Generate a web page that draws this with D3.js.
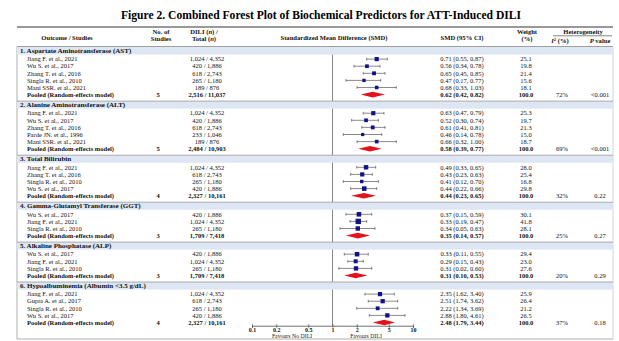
<!DOCTYPE html>
<html>
<head>
<meta charset="utf-8">
<script src="https://cdn.jsdelivr.net/npm/d3@7"></script>
<style>
  body { margin: 0; background: #fff; }
  svg { font-family: "Liberation Serif", "Times New Roman", serif; }
</style>
</head>
<body>
<svg id="chart" width="619" height="341"></svg>
<script>
const sectionTitles = [
  "1. Aspartate Aminotransferase (AST)",
  "2. Alanine Aminotransferase (ALT)",
  "3. Total Bilirubin",
  "4. Gamma-Glutamyl Transferase (GGT)",
  "5. Alkaline Phosphatase (ALP)",
  "6. Hypoalbuminemia (Albumin <3.5 g/dL)"
];

const studyNames = [
  "Jiang F. et al., 2021", "Wu S. et al., 2017", "Zhang T. et al., 2016", "Singla R. et al., 2010", "Mani SSR. et al., 2021",
  "Jiang F. et al., 2021", "Wu S. et al., 2017", "Zhang T. et al., 2016", "Parde JN. et al., 1996", "Mani SSR. et al., 2021",
  "Jiang F. et al., 2021", "Zhang T. et al., 2016", "Singla R. et al., 2010", "Wu S. et al., 2017",
  "Wu S. et al., 2017", "Jiang F. et al., 2021", "Singla R. et al., 2010",
  "Wu S. et al., 2017", "Jiang F. et al., 2021", "Singla R. et al., 2010",
  "Jiang F. et al., 2021", "Gupta A. et al., 2017", "Singla R. et al., 2010", "Wu S. et al., 2017"
];
const studySection = [0,0,0,0,0, 1,1,1,1,1, 2,2,2,2, 3,3,3, 4,4,4, 5,5,5,5];
const studyCases = [
  "1,024 / 4,352", "420 / 1,886", "618 / 2,743", "265 / 1,180", "189 / 876",
  "1,024 / 4,352", "420 / 1,886", "618 / 2,743", "233 / 1,046", "189 / 876",
  "1,024 / 4,352", "618 / 2,743", "265 / 1,180", "420 / 1,886",
  "420 / 1,886", "1,024 / 4,352", "265 / 1,180",
  "420 / 1,886", "1,024 / 4,352", "265 / 1,180",
  "1,024 / 4,352", "618 / 2,743", "265 / 1,180", "420 / 1,886"
];
const studySmd  = [0.71, 0.56, 0.65, 0.47, 0.68, 0.63, 0.52, 0.61, 0.46, 0.66, 0.49, 0.43, 0.41, 0.44, 0.37, 0.33, 0.34, 0.33, 0.29, 0.31, 2.35, 2.51, 2.22, 2.88];
const studyLow  = [0.55, 0.34, 0.45, 0.17, 0.33, 0.47, 0.30, 0.41, 0.14, 0.32, 0.33, 0.23, 0.12, 0.22, 0.15, 0.19, 0.05, 0.11, 0.15, 0.02, 1.62, 1.74, 1.34, 1.80];
const studyHigh = [0.87, 0.78, 0.85, 0.77, 1.03, 0.79, 0.74, 0.81, 0.78, 1.00, 0.65, 0.63, 0.70, 0.66, 0.59, 0.47, 0.63, 0.55, 0.43, 0.60, 3.40, 3.62, 3.69, 4.61];
const studyWeight = [25.1, 19.8, 21.4, 15.6, 18.1, 25.3, 19.7, 21.3, 15.0, 18.7, 28.0, 25.4, 16.8, 29.8, 30.1, 41.8, 28.1, 29.4, 23.0, 27.6, 25.9, 26.4, 21.2, 26.5];

// where the figure places each study marker on its ratio axis
const markEst  = [3.54, 2.68, 3.28, 2.46, 3.54, 3.21, 2.61, 3.16, 2.37, 3.54, 2.61, 2.34, 2.31, 2.48, 2.13, 2.09, 2.06, 2.02, 1.94, 1.96, 3.89, 4.20, 3.64, 4.80];
const markLow  = [2.66, 1.85, 2.41, 1.47, 2.02, 2.41, 1.73, 2.31, 1.36, 2.02, 2.00, 1.68, 1.36, 1.68, 1.47, 1.65, 1.24, 1.40, 1.55, 1.20, 2.53, 2.78, 2.00, 2.87];
const markHigh = [4.80, 3.89, 4.49, 3.97, 6.20, 4.36, 3.71, 4.49, 4.08, 6.20, 3.44, 3.12, 3.71, 3.54, 3.07, 2.66, 3.37, 2.78, 2.41, 3.07, 5.86, 6.45, 6.45, 7.95];

const pooledStudies = [5, 5, 4, 3, 3, 4];
const pooledCases = ["2,516 / 11,037", "2,484 / 10,903", "2,327 / 10,161", "1,709 / 7,418", "1,709 / 7,418", "2,327 / 10,161"];
const pooledSmd  = [0.62, 0.58, 0.44, 0.35, 0.31, 2.48];
const pooledLow  = [0.42, 0.39, 0.23, 0.14, 0.10, 1.79];
const pooledHigh = [0.82, 0.77, 0.65, 0.57, 0.53, 3.44];
const pooledI2 = [72, 69, 32, 25, 20, 37];
const pooledP = ["<0.001", "<0.001", "0.22", "0.27", "0.29", "0.18"];
const pooledMarkEst  = [3.16, 2.92, 2.46, 2.06, 1.94, 4.40];
const pooledMarkLow  = [2.24, 2.09, 1.70, 1.47, 1.40, 3.16];
const pooledMarkHigh = [4.49, 4.08, 3.47, 2.92, 2.71, 5.98];

const axisTicks = [0.1, 0.2, 0.5, 1, 2, 5, 10];

const left = 17, right = 613;
const bandH = 7.5, firstPad = 4.6, step = 7.1, afterPad = 6.5;
const axisY = 325.7;
const col = { name: 27, k: 158, cases: 207, smd: 462, weight: 526, i2: 562, p: 600 };

const svg = d3.select("#chart");
const x = d3.scaleLog().domain([0.1, 10]).range([252, 413]);
const side = d3.scaleSqrt().domain([0, 42]).range([0, 5.4]);
const fmt = d3.format(".2f");
const ciText = (m, l, h) => `${fmt(m)} (${fmt(l)}, ${fmt(h)})`;

// row layout
const bands = [];
const rows = [];
let y = 47;
sectionTitles.forEach((title, s) => {
  bands.push({ title, top: y });
  let cy = y + bandH + firstPad;
  studyNames.forEach((name, i) => {
    if (studySection[i] !== s) return;
    rows.push({ i, y: cy, pooled: false });
    cy += step;
  });
  rows.push({ i: s, y: cy, pooled: true });
  y = cy + afterPad;
});

// title
svg.append("text")
  .attr("x", 321).attr("y", 19)
  .attr("text-anchor", "middle")
  .attr("font-size", 11.6).attr("font-weight", "bold")
  .text("Figure 2. Combined Forest Plot of Biochemical Predictors for ATT-Induced DILI");

// table frame
svg.append("line").attr("x1", left).attr("x2", right).attr("y1", 27).attr("y2", 27)
  .attr("stroke", "#777").attr("stroke-width", 1.3);
svg.append("line").attr("x1", left).attr("x2", right).attr("y1", 46.5).attr("y2", 46.5)
  .attr("stroke", "#888").attr("stroke-width", 0.8);
svg.append("line").attr("x1", left).attr("x2", right).attr("y1", 339).attr("y2", 339)
  .attr("stroke", "#999").attr("stroke-width", 0.8);
svg.append("line").attr("x1", left).attr("x2", left).attr("y1", 46.5).attr("y2", 339)
  .attr("stroke", "#999").attr("stroke-width", 0.8);
svg.append("line").attr("x1", right).attr("x2", right).attr("y1", 46.5).attr("y2", 339)
  .attr("stroke", "#bbb").attr("stroke-width", 0.6);

// header
const head = svg.append("g").attr("font-size", 6.6).attr("font-weight", "bold")
  .attr("text-anchor", "middle").attr("fill", "#111");
head.append("text").attr("x", 67).attr("y", 39.5).text("Outcome / Studies");
head.append("text").attr("x", 161).attr("y", 34).text("No. of");
head.append("text").attr("x", 161).attr("y", 41).text("Studies");
const d1 = head.append("text").attr("x", 204).attr("y", 34);
d1.append("tspan").text("DILI (");
d1.append("tspan").attr("font-style", "italic").text("n");
d1.append("tspan").text(") /");
const d2 = head.append("text").attr("x", 204).attr("y", 41);
d2.append("tspan").text("Total (");
d2.append("tspan").attr("font-style", "italic").text("n");
d2.append("tspan").text(")");
head.append("text").attr("x", 334).attr("y", 39.5).text("Standardized Mean Difference (SMD)");
head.append("text").attr("x", col.smd).attr("y", 39.5).text("SMD (95% CI)");
head.append("text").attr("x", 527).attr("y", 34).text("Weight");
head.append("text").attr("x", 527).attr("y", 41).text("(%)");
head.append("text").attr("x", 583).attr("y", 33.5).text("Heterogeneity");
head.append("line").attr("x1", 553).attr("x2", 612).attr("y1", 35.8).attr("y2", 35.8)
  .attr("stroke", "#333").attr("stroke-width", 0.6);
const i2h = head.append("text").attr("x", col.i2 - 2).attr("y", 43);
i2h.append("tspan").attr("font-style", "italic").text("I");
i2h.append("tspan").attr("font-size", 4.5).attr("dy", -2.2).text("2");
i2h.append("tspan").attr("dy", 2.2).text(" (%)");
const ph = head.append("text").attr("x", col.p).attr("y", 43);
ph.append("tspan").attr("font-style", "italic").text("P");
ph.append("tspan").text(" value");

// reference line at 1
svg.append("line")
  .attr("x1", x(1)).attr("x2", x(1)).attr("y1", 46.5).attr("y2", axisY)
  .attr("stroke", "#555").attr("stroke-width", 0.7);

// section bands
const bandG = svg.append("g").selectAll("g").data(bands).join("g");
bandG.append("rect")
  .attr("x", left).attr("y", d => d.top)
  .attr("width", right - left).attr("height", bandH)
  .attr("fill", "#dde6f2");
bandG.filter((d, i) => i > 0).append("line")
  .attr("x1", left).attr("x2", right)
  .attr("y1", d => d.top).attr("y2", d => d.top)
  .attr("stroke", "#9a9a9a").attr("stroke-width", 0.8);
bandG.append("text")
  .attr("x", 20).attr("y", d => d.top + bandH / 2).attr("dy", "0.35em")
  .attr("font-size", 7).attr("font-weight", "bold").attr("fill", "#111")
  .text(d => d.title);

// table text
const rowG = svg.append("g").attr("font-size", 6.5).attr("fill", "#111")
  .selectAll("g").data(rows).join("g")
  .attr("transform", d => `translate(0,${d.y})`)
  .attr("font-weight", d => d.pooled ? "bold" : "normal");

rowG.append("text").attr("x", col.name).attr("dy", "0.35em")
  .text(d => d.pooled ? "Pooled (Random-effects model)" : studyNames[d.i]);
rowG.filter(d => d.pooled).append("text")
  .attr("x", col.k).attr("dy", "0.35em").attr("text-anchor", "middle")
  .text(d => pooledStudies[d.i]);
rowG.append("text").attr("x", col.cases).attr("dy", "0.35em").attr("text-anchor", "middle")
  .text(d => d.pooled ? pooledCases[d.i] : studyCases[d.i]);
rowG.append("text").attr("x", col.smd).attr("dy", "0.35em").attr("text-anchor", "middle")
  .text(d => d.pooled
    ? ciText(pooledSmd[d.i], pooledLow[d.i], pooledHigh[d.i])
    : ciText(studySmd[d.i], studyLow[d.i], studyHigh[d.i]));
rowG.append("text").attr("x", col.weight).attr("dy", "0.35em").attr("text-anchor", "middle")
  .text(d => d.pooled ? "100.0" : studyWeight[d.i].toFixed(1));
rowG.filter(d => d.pooled).append("text")
  .attr("x", col.i2).attr("dy", "0.35em").attr("text-anchor", "middle")
  .attr("font-weight", "normal")
  .text(d => pooledI2[d.i] + "%");
rowG.filter(d => d.pooled).append("text")
  .attr("x", col.p).attr("dy", "0.35em").attr("text-anchor", "middle")
  .attr("font-weight", "normal")
  .text(d => pooledP[d.i]);

// study markers
const studyRows = rows.filter(d => !d.pooled);
const mark = svg.append("g").selectAll("g").data(studyRows).join("g")
  .attr("transform", d => `translate(0,${d.y})`);
mark.append("line")
  .attr("x1", d => x(markLow[d.i])).attr("x2", d => x(markHigh[d.i]))
  .attr("stroke", "#3a3a3a").attr("stroke-width", 0.6);
mark.append("line")
  .attr("x1", d => x(markLow[d.i])).attr("x2", d => x(markLow[d.i]))
  .attr("y1", -1.4).attr("y2", 1.4)
  .attr("stroke", "#3a3a3a").attr("stroke-width", 0.6);
mark.append("line")
  .attr("x1", d => x(markHigh[d.i])).attr("x2", d => x(markHigh[d.i]))
  .attr("y1", -1.4).attr("y2", 1.4)
  .attr("stroke", "#3a3a3a").attr("stroke-width", 0.6);
mark.append("rect")
  .attr("x", d => x(markEst[d.i]) - side(studyWeight[d.i]) / 2)
  .attr("y", d => -side(studyWeight[d.i]) / 2)
  .attr("width", d => side(studyWeight[d.i]))
  .attr("height", d => side(studyWeight[d.i]))
  .attr("fill", "#12128a");

// pooled diamonds
svg.append("g").selectAll("path").data(rows.filter(d => d.pooled)).join("path")
  .attr("d", d => {
    const lo = x(pooledMarkLow[d.i]), hi = x(pooledMarkHigh[d.i]), m = x(pooledMarkEst[d.i]);
    return `M${lo},${d.y} L${m},${d.y - 2.8} L${hi},${d.y} L${m},${d.y + 2.8} Z`;
  })
  .attr("fill", "#e3121b");

// log axis
const axisG = svg.append("g")
  .attr("transform", `translate(0,${axisY})`)
  .call(d3.axisBottom(x).tickValues(axisTicks).tickFormat(d => d).tickSize(2).tickPadding(0.5));
axisG.select(".domain").attr("stroke", "#333").attr("stroke-width", 0.7);
axisG.selectAll(".tick line").attr("stroke", "#333").attr("stroke-width", 0.6).attr("y1", -1.5);
axisG.selectAll(".tick text")
  .attr("font-family", "Liberation Serif, serif").attr("font-size", 6)
  .attr("font-weight", "bold").attr("fill", "#111");

svg.append("text").attr("x", 292).attr("y", 337.5).attr("text-anchor", "middle")
  .attr("font-size", 5.8).attr("fill", "#222").text("Favours No DILI");
svg.append("text").attr("x", 366).attr("y", 337.5).attr("text-anchor", "middle")
  .attr("font-size", 5.8).attr("fill", "#222").text("Favours DILI");
</script>
</body>
</html>
